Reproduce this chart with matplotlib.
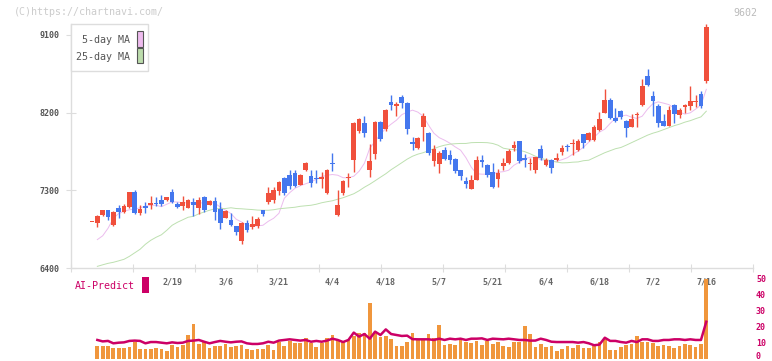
import numpy as np
import matplotlib
matplotlib.use('Agg')
import matplotlib.pyplot as plt
import matplotlib.transforms as mtransforms
from matplotlib.patches import Rectangle

opens = [6928, 6922, 7009, 7067, 6895, 7092, 7046, 7108, 7278, 7038,
         7124, 7131, 7154, 7193, 7185, 7286, 7139, 7116, 7100, 7166,
         7100, 7224, 7131, 7177, 7089, 6980, 6953, 6884, 6713, 6922,
         6876, 6892, 7070, 7166, 7185, 7293, 7437, 7483, 7495, 7367,
         7541, 7464, 7444, 7429, 7270, 7618, 7019, 7270, 7445, 7649,
         7989, 8082, 7533, 7719, 8090, 8009, 8319, 8279, 8384, 8307,
         7862, 7796, 8036, 7959, 7638, 7603, 7765, 7707, 7661, 7533,
         7409, 7313, 7425, 7649, 7591, 7514, 7429, 7580, 7622, 7792,
         7870, 7669, 7603, 7533, 7777, 7591, 7657, 7649, 7746, 7811,
         7831, 7765, 7951, 7881, 7881, 8001, 8198, 8345, 8133, 8222,
         8105, 8036, 8168, 8287, 8628, 8396, 8280, 8102, 8047, 8284,
         8172, 8268, 8276, 8320, 8412, 8566]
highs = [6928, 7011, 7075, 7075, 7055, 7127, 7147, 7280, 7309, 7135,
         7162, 7232, 7224, 7240, 7225, 7313, 7170, 7232, 7200, 7209,
         7220, 7232, 7185, 7220, 7162, 7070, 7035, 6890, 6930, 6961,
         6999, 6990, 7075, 7340, 7340, 7410, 7450, 7530, 7530, 7490,
         7630, 7530, 7530, 7518, 7550, 7727, 7301, 7420, 7502, 8090,
         8140, 8160, 7831, 8100, 8100, 8245, 8403, 8320, 8400, 8320,
         7920, 7915, 8195, 7975, 7820, 7760, 7800, 7765, 7670, 7540,
         7452, 7475, 7700, 7707, 7610, 7615, 7552, 7670, 7775, 7877,
         7875, 7723, 7680, 7690, 7822, 7670, 7660, 7735, 7825, 7840,
         7890, 7890, 7955, 7970, 8055, 8210, 8473, 8375, 8249, 8230,
         8110, 8180, 8210, 8590, 8705, 8450, 8300, 8180, 8280, 8300,
         8250, 8300, 8508, 8400, 8455, 9227]
lows = [6928, 6876, 7000, 6960, 6890, 6980, 7040, 7100, 7030, 7015,
        7038, 7085, 7116, 7124, 7180, 7155, 7090, 7070, 7095, 7004,
        7030, 7050, 7125, 6961, 6852, 6975, 6890, 6786, 6683, 6818,
        6856, 6860, 7000, 7147, 7150, 7247, 7250, 7310, 7340, 7360,
        7520, 7336, 7390, 7325, 7255, 7525, 7000, 7250, 7333, 7514,
        7960, 7916, 7456, 7661, 7870, 7990, 8229, 8163, 8254, 7958,
        7765, 7780, 7870, 7715, 7583, 7502, 7650, 7610, 7495, 7420,
        7325, 7310, 7420, 7568, 7450, 7330, 7340, 7530, 7610, 7760,
        7620, 7568, 7530, 7495, 7655, 7580, 7495, 7640, 7710, 7750,
        7705, 7760, 7790, 7875, 7875, 7990, 8198, 8130, 8094, 8130,
        7920, 8030, 8030, 8280, 8510, 8160, 8030, 8040, 8040, 8080,
        8140, 8200, 8230, 8270, 8250, 8540]
closes = [6928, 7000, 7067, 6992, 7050, 7046, 7116, 7278, 7038, 7085,
          7093, 7154, 7143, 7147, 7220, 7162, 7108, 7166, 7185, 7131,
          7189, 7070, 7178, 7050, 6922, 7058, 6903, 6818, 6918, 6845,
          6907, 6968, 7023, 7270, 7309, 7398, 7270, 7348, 7351, 7483,
          7611, 7386, 7433, 7456, 7541, 7607, 7135, 7406, 7456, 8082,
          8125, 7959, 7638, 8090, 7890, 8230, 8287, 8295, 8307, 8005,
          7831, 7908, 8160, 7727, 7773, 7734, 7661, 7649, 7522, 7467,
          7371, 7417, 7649, 7623, 7483, 7340, 7502, 7618, 7754, 7823,
          7641, 7657, 7618, 7688, 7669, 7657, 7553, 7676, 7796, 7803,
          7842, 7870, 7843, 7962, 8036, 8122, 8345, 8140, 8105, 8145,
          8024, 8122, 8183, 8508, 8520, 8338, 8075, 8047, 8230, 8183,
          8230, 8291, 8338, 8338, 8276, 9196]

ma5 = [None, 6729, 6773, 6860, 6976, 7031, 7057, 7075, 7081, 7098,
       7115, 7127, 7127, 7110, 7139, 7165, 7165, 7156, 7156, 7154,
       7154, 7154, 7162, 7150, 7107, 7069, 7031, 6965, 6933, 6895,
       6883, 6889, 6895, 6941, 6976, 7034, 7208, 7272, 7324, 7353,
       7376, 7397, 7429, 7458, 7475, 7483, 7475, 7446, 7446, 7463,
       7521, 7614, 7788, 7869, 7951, 8017, 8067, 8113, 8177, 8206,
       8229, 8206, 8159, 8055, 7962, 7910, 7881, 7846, 7803, 7765,
       7678, 7568, 7492, 7487, 7487, 7487, 7510, 7516, 7533, 7591,
       7626, 7661, 7684, 7684, 7655, 7649, 7626, 7637, 7655, 7678,
       7719, 7753, 7800, 7858, 7916, 7974, 8009, 8075, 8136, 8159,
       8171, 8148, 8133, 8159, 8241, 8304, 8325, 8310, 8293, 8252,
       8206, 8183, 8198, 8241, 8287, 8470]
ma25 = [None, 6419, 6437, 6454, 6466, 6483, 6501, 6535, 6576, 6617,
        6675, 6721, 6756, 6785, 6837, 6895, 6930, 6959, 6988, 6999,
        7028, 7049, 7069, 7086, 7089, 7089, 7098, 7089, 7086, 7081,
        7077, 7071, 7069, 7069, 7075, 7086, 7092, 7098, 7104, 7115,
        7121, 7127, 7139, 7156, 7168, 7179, 7197, 7214, 7237, 7260,
        7295, 7336, 7371, 7411, 7452, 7492, 7539, 7579, 7620, 7661,
        7695, 7719, 7736, 7759, 7782, 7806, 7823, 7835, 7840, 7843,
        7843, 7852, 7854, 7854, 7852, 7843, 7823, 7788, 7777, 7771,
        7765, 7748, 7724, 7695, 7672, 7655, 7643, 7626, 7618, 7620,
        7626, 7629, 7643, 7649, 7678, 7707, 7736, 7759, 7782, 7796,
        7823, 7852, 7881, 7910, 7939, 7962, 7980, 8003, 8026, 8049,
        8067, 8090, 8107, 8130, 8151, 8217]

ai_volume = [None, 8.1, 8.1, 8.1, 7.1, 7.1, 7.1, 7.7, 10.4, 6.0,
             6.5, 6.5, 7.1, 6.5, 5.2, 8.9, 7.7, 8.9, 15.0, 22.0,
             9.2, 10.4, 7.1, 8.1, 8.1, 9.2, 7.7, 8.1, 8.9, 6.0,
             5.6, 6.2, 6.2, 8.6, 5.6, 10.9, 8.4, 11.5, 10.2, 10.2,
             12.9, 10.2, 7.7, 10.2, 12.9, 15.0, 11.9, 10.9, 11.9, 14.4,
             16.5, 16.0, 34.8, 16.5, 14.0, 14.4, 12.5, 8.1, 8.1, 10.9,
             16.5, 12.5, 12.5, 15.6, 13.3, 21.2, 8.6, 9.2, 8.6, 11.9,
             10.9, 10.2, 11.5, 8.6, 11.3, 9.2, 10.4, 8.1, 7.3, 10.9,
             10.9, 20.6, 15.6, 7.3, 9.2, 7.3, 8.1, 5.0, 6.0, 8.1,
             6.7, 8.6, 7.1, 7.1, 8.1, 10.9, 13.1, 5.6, 5.6, 7.3,
             8.6, 9.6, 14.4, 10.9, 10.9, 10.2, 8.1, 8.6, 8.1, 6.7,
             8.1, 9.6, 8.6, 7.3, 9.6, 50.0]
ai_predict = [None, 11.9, 11.0, 11.3, 9.8, 10.2, 10.4, 11.3, 11.5, 11.3,
              9.8, 10.6, 10.6, 10.2, 9.8, 10.4, 10.0, 10.2, 11.3, 11.5,
              11.9, 10.8, 9.8, 10.6, 11.3, 10.8, 10.4, 10.8, 11.0, 9.8,
              9.4, 9.4, 9.8, 10.8, 10.2, 11.5, 11.9, 12.3, 11.9, 11.5,
              11.9, 10.8, 11.3, 10.8, 11.5, 12.7, 11.9, 10.6, 11.9, 16.5,
              14.0, 15.6, 12.7, 17.1, 15.0, 18.5, 15.6, 15.0, 14.4, 14.6,
              12.4, 12.3, 12.3, 12.3, 11.9, 12.7, 11.9, 12.7, 12.3, 12.7,
              11.9, 12.7, 12.7, 12.9, 11.9, 12.7, 12.5, 12.3, 12.7, 12.3,
              11.9, 11.9, 11.5, 11.5, 12.7, 11.9, 10.8, 10.6, 10.6, 10.6,
              10.6, 10.2, 10.6, 9.8, 8.6, 9.0, 13.3, 11.3, 11.3, 10.6,
              10.2, 11.3, 10.6, 12.3, 12.3, 11.3, 11.3, 11.9, 11.9, 12.3,
              12.3, 11.9, 12.3, 11.9, 11.9, 23.3]

date_pos = [15, 25, 35, 45, 55, 65, 75, 85, 95, 105, 115]
date_labels = ['2/19', '3/6', '3/21', '4/4', '4/18', '5/7', '5/21',
               '6/4', '6/18', '7/2', '7/16']
price_ticks = [6400, 7300, 8200, 9100]
ai_ticks = [0, 10, 20, 30, 40, 50]

W, H = 772, 361
mono = 'DejaVu Sans Mono'
up_color = '#f0503c'
down_color = '#4477ee'
magenta = '#cc0066'


def fx(px):
    return px / W


def fy(py):
    return 1 - py / H


fig = plt.figure(figsize=(W / 100, H / 100), dpi=100)

xlim = (-3.93, 123.74)
ax = fig.add_axes([fx(71), fy(268), fx(753) - fx(71), fy(24) - fy(268)])
ax.set_xlim(*xlim)
ax.set_ylim(6400, 9227)

idx = np.arange(len(opens))
o = np.array(opens, dtype=float)
c = np.array(closes, dtype=float)
hi = np.array(highs, dtype=float)
lo = np.array(lows, dtype=float)
colors = [up_color if cc >= oo else down_color for oo, cc in zip(o, c)]

ax.vlines(idx, lo, hi, colors=colors, linewidth=1.0, zorder=2)
body = np.maximum(np.abs(c - o), 12)
ax.bar(idx, body, bottom=np.minimum(o, c), width=0.88, color=colors,
       linewidth=0, zorder=3)

ax.plot(idx, np.array(ma5, dtype=float), color='#ecbcee', linewidth=0.7, zorder=1)
ax.plot(idx, np.array(ma25, dtype=float), color='#bde0b0', linewidth=0.7, zorder=1)

for s in ['top', 'right']:
    ax.spines[s].set_visible(False)
for s in ['left', 'bottom']:
    ax.spines[s].set_color('#dddddd')
    ax.spines[s].set_linewidth(1.0)

ax.set_yticks(price_ticks)
ax.set_yticklabels([str(t) for t in price_ticks], family=mono, fontweight='bold')
ax.tick_params(axis='y', direction='inout', length=6.5, width=0.8,
               color='#dddddd', labelsize=6, labelcolor='#555555', pad=5)
ax.set_xticks(np.linspace(xlim[0], xlim[1], 12))
ax.tick_params(axis='x', direction='inout', length=6, width=0.8,
               color='#dddddd', labelbottom=False)

trans = mtransforms.blended_transform_factory(ax.transData, ax.transAxes)
for p, lab in zip(date_pos, date_labels):
    ax.text(p, -0.0574, lab, transform=trans, ha='center', va='center',
            family=mono, fontsize=6, fontweight='bold', color='#666666',
            clip_on=False)

# lower panel
ax2 = fig.add_axes([fx(71), fy(359), fx(753) - fx(71), fy(279) - fy(359)])
ax2.set_facecolor('none')
ax2.set_xlim(*xlim)
ax2.set_ylim(0, 50)
ax2.bar(idx, np.array(ai_volume, dtype=float), width=0.7, color='#f0963c',
        linewidth=0, zorder=1)
ax2.plot(idx, np.array(ai_predict, dtype=float), color=magenta, linewidth=1.8,
         zorder=2)
for s in ax2.spines.values():
    s.set_visible(False)
ax2.set_xticks([])
ax2.set_yticks([])
trans2 = mtransforms.blended_transform_factory(ax2.transAxes, ax2.transData)
for t in ai_ticks:
    lift = 2.5 if t == 0 else 0
    ax2.text(1.0, t, str(t), ha='left', va='center', family=mono, fontsize=6,
             fontweight='bold', color=magenta, clip_on=False,
             transform=mtransforms.offset_copy(trans2, fig=fig, x=3, y=lift,
                                               units='dots'))

# legend box
fig.add_artist(Rectangle((fx(70.5), fy(71)), fx(148.3) - fx(70.5), fy(24) - fy(71),
                         transform=fig.transFigure, facecolor='white',
                         edgecolor='#dddddd', linewidth=1.0, zorder=5))
fig.text(fx(129.5), fy(40), '5-day MA', ha='right', va='center', family=mono,
         fontsize=7.2, color='#555555', zorder=6)
fig.text(fx(129.5), fy(57), '25-day MA', ha='right', va='center', family=mono,
         fontsize=7.2, color='#555555', zorder=6)
fig.add_artist(Rectangle((fx(137), fy(46.5)), fx(5.5), fy(31.5) - fy(46.5),
                         transform=fig.transFigure, facecolor='#eebbee',
                         edgecolor='#555555', linewidth=0.8, zorder=6))
fig.add_artist(Rectangle((fx(137), fy(63.3)), fx(5.5), fy(48.3) - fy(63.3),
                         transform=fig.transFigure, facecolor='#bcdcac',
                         edgecolor='#555555', linewidth=0.8, zorder=6))

fig.text(fx(14), fy(12), '(C)https://chartnavi.com/', ha='left', va='center',
         family=mono, fontsize=7.2, color='#cccccc')
fig.text(fx(733), fy(12.5), '9602', ha='left', va='center', family=mono,
         fontsize=7.2, color='#bbbbbb')

fig.text(fx(75), fy(286), 'AI-Predict', ha='left', va='center', family=mono,
         fontsize=7.2, color=magenta)
fig.add_artist(Rectangle((fx(142), fy(292.7)), fx(6.7), fy(277.3) - fy(292.7),
                         transform=fig.transFigure, facecolor=magenta,
                         edgecolor='none', zorder=5))

fig.savefig('out.png', dpi=100)
